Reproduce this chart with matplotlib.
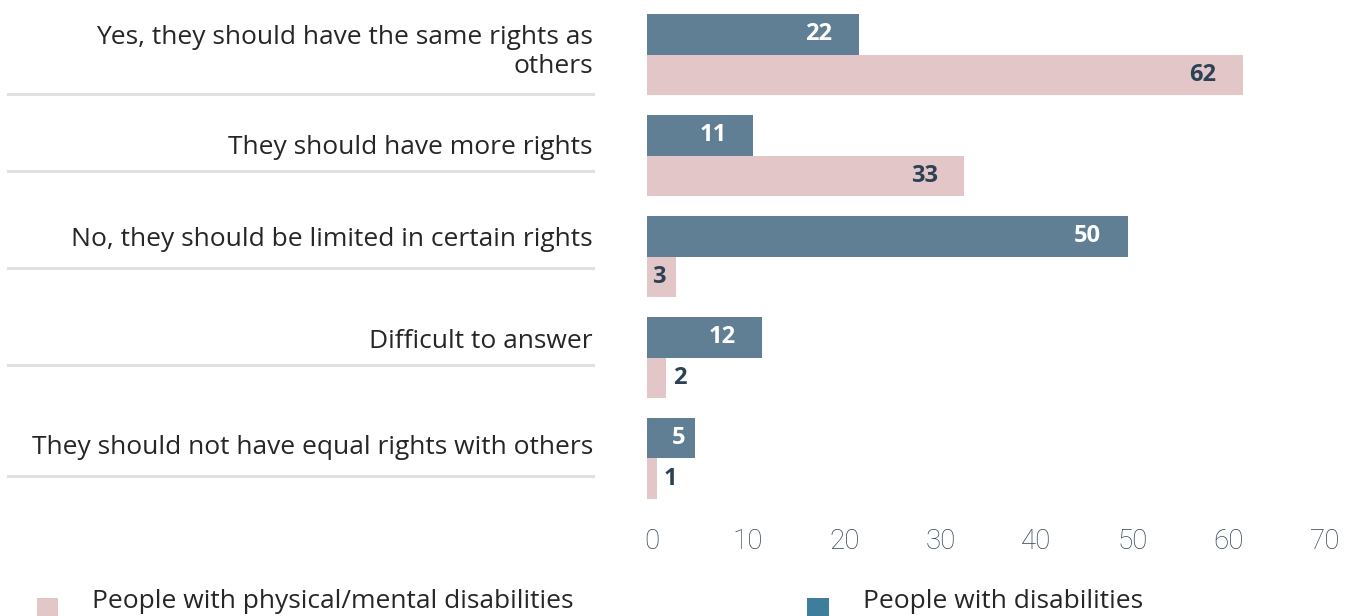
import matplotlib
matplotlib.use("Agg")
import matplotlib.pyplot as plt
import matplotlib.patches as patches
import matplotlib.transforms as mtransforms
import numpy as np

# data
categories = [
    "Yes, they should have the same rights as\nothers",
    "They should have more rights",
    "No, they should be limited in certain rights",
    "Difficult to answer",
    "They should not have equal rights with others",
]
people_disab = [22, 11, 50, 12, 5]          # blue bars
people_phys_mental = [62, 33, 3, 2, 1]      # pink bars
xticks = [0, 10, 20, 30, 40, 50, 60, 70]
legend_labels = ["People with physical/mental disabilities", "People with disabilities"]

# colours
c_blue = "#607f94"
c_pink = "#e3c7c8"
c_legend_blue = "#3e7d9b"
c_text = "#262626"
c_dark = "#2b4255"
c_tick = "#2f4458"
c_sep = "#e1e1e3"

W, H = 1351, 616
fig = plt.figure(figsize=(W / 100, H / 100), dpi=100, facecolor="white")

def fx(px):
    return px / W

def fy(py):
    return 1 - py / H

# axes: left 647px, right 1320px, top 0, bottom 510px
ax = fig.add_axes([fx(647), fy(510), fx(1320 - 647), (510) / H])
y = np.arange(len(categories))
bh = 0.4
ax.barh(y - bh / 2, people_disab, height=bh, color=c_blue, linewidth=0)
ax.barh(y + bh / 2, people_phys_mental, height=bh, color=c_pink, linewidth=0)
ax.set_xlim(0, 70)
ax.set_ylim(4.51, -0.54)

for s in ax.spines.values():
    s.set_visible(False)
ax.set_yticks([])
ax.set_xticks(xticks)
ax.set_xticklabels([str(t) for t in xticks], fontsize=20, color=c_tick,
                   family=["Roboto", "DejaVu Sans"], fontweight="light")
ax.tick_params(axis="x", length=0, pad=13)
# tick labels sit a little to the right in the original
shift = mtransforms.ScaledTranslation(5 / 100, 0, fig.dpi_scale_trans)
for lbl in ax.get_xticklabels():
    lbl.set_transform(lbl.get_transform() + shift)

# value labels
val_font = dict(fontsize=17, fontweight="bold", family=["Open Sans", "DejaVu Sans"])

def put_label(v, yy, col_in):
    if v >= 10:
        off, col = -40, col_in
    elif v >= 3:
        off, col = -17, col_in
    else:
        off, col = 14, c_dark
    ax.annotate(str(v), (v, yy), xytext=(off, 0), textcoords="offset pixels",
                ha="center", va="center", color=col, **val_font)

for i in range(len(categories)):
    put_label(people_disab[i], y[i] - bh / 2, "white")
    put_label(people_phys_mental[i], y[i] + bh / 2, c_dark)

# category labels on the left, with separator lines
label_y = [52, 148, 240, 341, 448]
sep_y = [94, 171, 268, 365, 476]
for lab, ly, sy in zip(categories, label_y, sep_y):
    fig.text(fx(593), fy(ly), lab, ha="right", va="center", fontsize=19,
             color=c_text, family=["Open Sans", "DejaVu Sans"], linespacing=1.25)
    fig.add_artist(plt.Line2D([fx(8), fx(593)], [fy(sy), fy(sy)], color=c_sep,
                              linewidth=2.2, transform=fig.transFigure))

# legend
fig.add_artist(patches.Rectangle((fx(37), fy(616)), fx(21), 18 / H, color=c_pink,
                                 transform=fig.transFigure, linewidth=0))
fig.text(fx(92), fy(601), legend_labels[0], ha="left", va="center", fontsize=19,
         color=c_text, family=["Open Sans", "DejaVu Sans"])
fig.add_artist(patches.Rectangle((fx(807), fy(616)), fx(22), 18 / H, color=c_legend_blue,
                                 transform=fig.transFigure, linewidth=0))
fig.text(fx(863), fy(601), legend_labels[1], ha="left", va="center", fontsize=19,
         color=c_text, family=["Open Sans", "DejaVu Sans"])

fig.savefig("out.png", dpi=100, facecolor="white")
